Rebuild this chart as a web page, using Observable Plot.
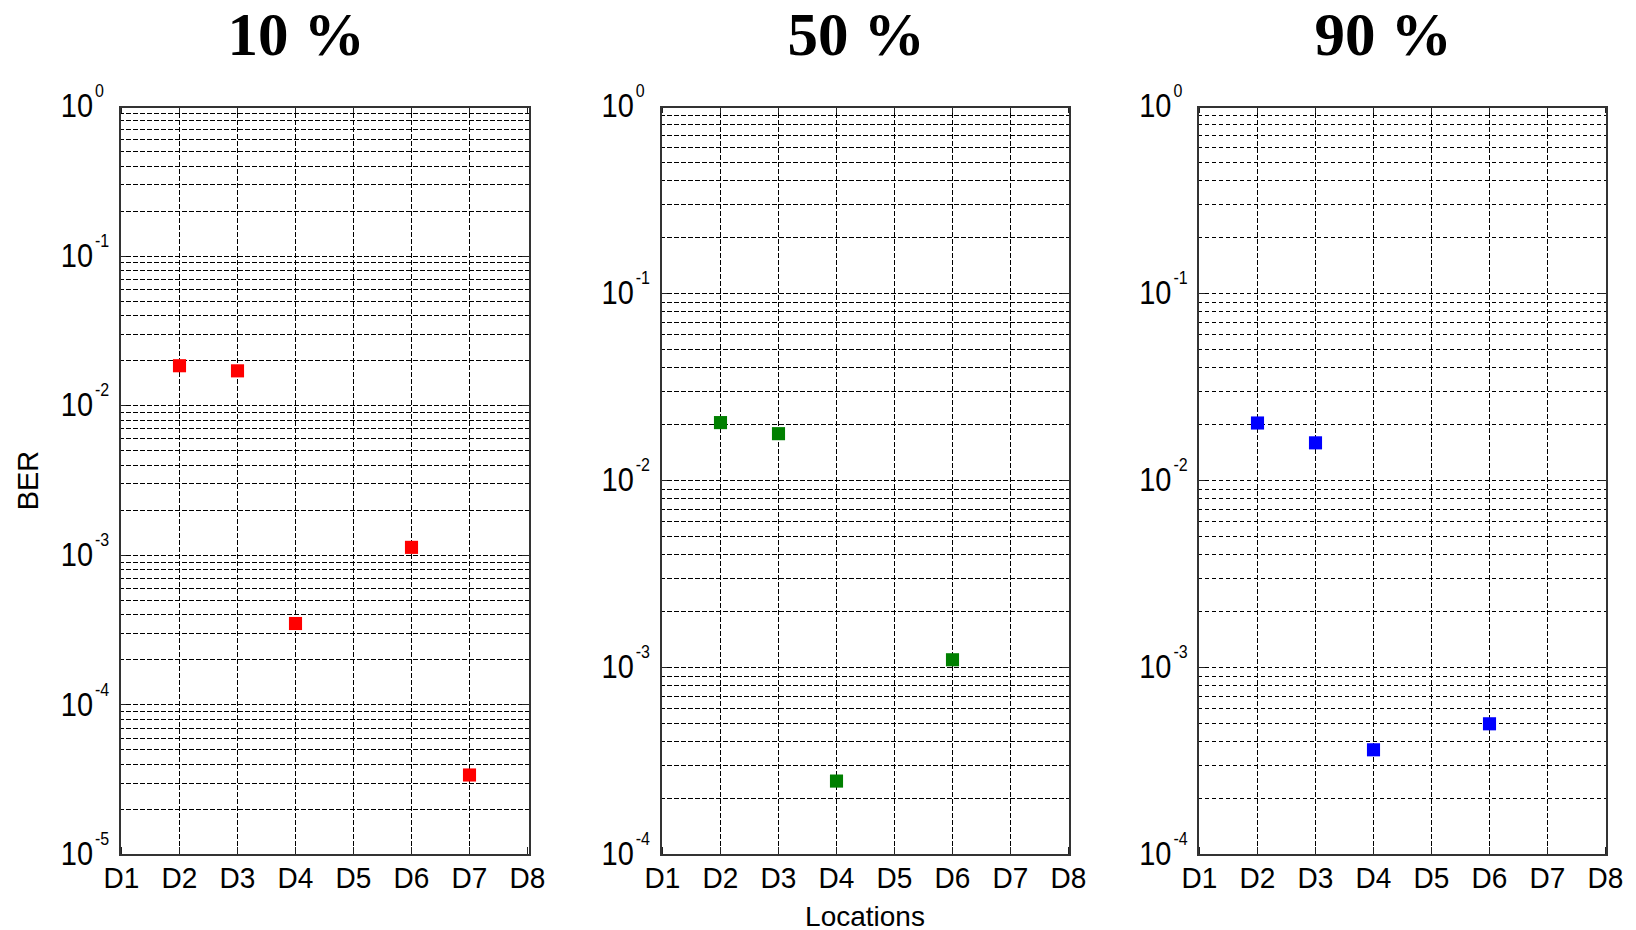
<!DOCTYPE html>
<html><head><meta charset="utf-8">
<script src="https://cdn.jsdelivr.net/npm/d3@7"></script>
<script src="https://cdn.jsdelivr.net/npm/@observablehq/plot@0.6"></script>
<style>
html,body{margin:0;padding:0;background:#fff;}
#root{position:relative;width:1636px;height:930px;overflow:hidden;background:#fff;}
.panel{position:absolute;top:0;}
.panel svg{overflow:visible;}
.title{position:absolute;top:4px;font-family:"Liberation Serif","Times New Roman",serif;font-weight:bold;font-size:61px;line-height:61px;white-space:nowrap;transform:translateX(-50%);color:#000;}
</style></head><body><div id="root"></div>
<script>
// ---- data ----
const locations = ["D1","D2","D3","D4","D5","D6","D7","D8"];
const titles = ["10 %","50 %","90 %"];
const loc10 = ["D2","D3","D4","D6","D7"];
const ber10 = [0.0185, 0.0171, 3.5e-4, 1.13e-3, 3.4e-5];
const loc50 = ["D2","D3","D4","D6"];
const ber50 = [0.0204, 0.0178, 2.47e-4, 1.1e-3];
const loc90 = ["D2","D3","D4","D6"];
const ber90 = [0.0203, 0.0159, 3.63e-4, 5.0e-4];
const colors = ["#ff0000", "#008000", "#0000ff"];
const yLabel = "BER";
const xLabel = "Locations";

const panels = [
  {title: titles[0], locs: loc10, vals: ber10, color: colors[0], lo: -5, left: 0, width: 545, ml: 119.3, mr: 16, titleX: 296, ylabel: yLabel, xlabel: null},
  {title: titles[1], locs: loc50, vals: ber50, color: colors[1], lo: -4, left: 545, width: 540, ml: 115, mr: 16, titleX: 856, ylabel: null, xlabel: xLabel},
  {title: titles[2], locs: loc90, vals: ber90, color: colors[2], lo: -4, left: 1085, width: 551, ml: 112.7, mr: 29.3, titleX: 1383, ylabel: null, xlabel: null}
];

const H = 930, MT = 106, MB = 76;
const root = document.getElementById("root");
const ns = "http://www.w3.org/2000/svg";

function stretch(t, s) {
  const tr = t.getAttribute("transform");
  if (tr && tr.trim().startsWith("translate")) {
    t.setAttribute("transform", tr + ` scale(1,${s})`);
  } else if (!tr) {
    const x = +(t.getAttribute("x") || 0), y = +(t.getAttribute("y") || 0);
    t.removeAttribute("x"); t.removeAttribute("y");
    t.setAttribute("transform", `translate(${x},${y}) scale(1,${s})`);
  }
}

panels.forEach(p => {
  const decades = d3.range(p.lo, 1).map(k => Math.pow(10, k));
  const minor = [];
  for (let k = p.lo; k < 0; k++) for (let m = 1; m <= 9; m++) minor.push(m * Math.pow(10, k));
  minor.push(1);
  const data = p.locs.map((l, i) => ({loc: l, ber: p.vals[i]}));
  const innerW = p.width - p.ml - p.mr;
  const innerH = H - MT - MB;
  const gridStyle = {stroke: "#000", strokeOpacity: 1, strokeWidth: 1, strokeDasharray: "4.5,2.5", shapeRendering: "crispEdges"};

  const plot = Plot.plot({
    width: p.width, height: H,
    marginLeft: p.ml, marginRight: p.mr, marginTop: MT, marginBottom: MB,
    style: {fontFamily: "'Liberation Sans', Arial, sans-serif", fontSize: "30px", color: "#000", background: "transparent", overflow: "visible"},
    x: {type: "point", domain: locations, padding: 0},
    y: {type: "log", domain: [Math.pow(10, p.lo), 1]},
    marks: [
      Plot.gridY(minor, gridStyle),
      Plot.gridX(locations.slice(1, -1), gridStyle),
      Plot.ruleY(decades, {stroke: "#222", strokeWidth: 1, insetRight: innerW - 7, shapeRendering: "crispEdges"}),
      Plot.ruleY(decades, {stroke: "#222", strokeWidth: 1, insetLeft: innerW - 7, shapeRendering: "crispEdges"}),
      Plot.ruleX(locations, {stroke: "#222", strokeWidth: 1, insetBottom: innerH - 7, shapeRendering: "crispEdges"}),
      Plot.ruleX(locations, {stroke: "#222", strokeWidth: 1, insetTop: innerH - 7, shapeRendering: "crispEdges"}),
      Plot.frame({stroke: "#333", strokeWidth: 2, shapeRendering: "crispEdges"}),
      Plot.axisY(decades, {
        tickSize: 0, tickPadding: 59, textAnchor: "start", fontSize: 29,
        tickFormat: d => "10^" + Math.round(Math.log10(d)),
        label: p.ylabel, labelAnchor: "center", labelOffset: 102.6, labelArrow: "none"
      }),
      Plot.axisX(locations, {
        tickSize: 0, tickPadding: 12, fontSize: 28,
        label: p.xlabel, labelAnchor: "center", labelOffset: 71, labelArrow: "none"
      }),
      Plot.dot(data, {x: "loc", y: "ber", symbol: "square", r: 7.4, fill: p.color, stroke: "none"})
    ]
  });

  // superscript exponents on y tick labels, slight vertical stretch like the original
  plot.querySelectorAll('g[aria-label="y-axis tick label"] text').forEach(t => {
    const s = t.textContent;
    if (!s.includes("^")) return;
    const [base, exp] = s.split("^");
    t.textContent = "";
    const b = document.createElementNS(ns, "tspan");
    b.textContent = base;
    const e = document.createElementNS(ns, "tspan");
    e.textContent = exp;
    e.setAttribute("dx", "2");
    e.setAttribute("dy", "-17.4");
    e.setAttribute("font-size", "16");
    t.appendChild(b); t.appendChild(e);
    stretch(t, 1.15);
  });
  plot.querySelectorAll('g[aria-label="x-axis tick label"] text').forEach(t => stretch(t, 1.08));

  const div = document.createElement("div");
  div.className = "panel";
  div.style.left = p.left + "px";
  div.style.width = p.width + "px";
  div.style.height = H + "px";
  div.appendChild(plot);
  root.appendChild(div);

  const tdiv = document.createElement("div");
  tdiv.className = "title";
  tdiv.style.left = p.titleX + "px";
  tdiv.textContent = p.title;
  root.appendChild(tdiv);
});
</script>
</body></html>
